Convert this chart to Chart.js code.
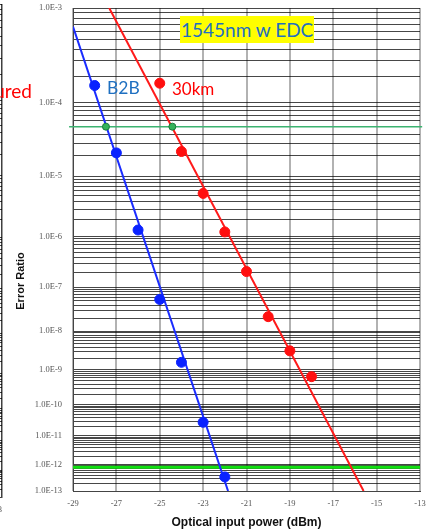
<!DOCTYPE html>
<html>
<head>
<meta charset="utf-8">
<script src="https://cdn.jsdelivr.net/npm/chart.js@4.4.0/dist/chart.umd.min.js"></script>
<style>
  html, body { margin: 0; padding: 0; background: #fff; }
  body { width: 434px; height: 530px; position: relative; overflow: hidden; }
  #mainWrap { position: absolute; left: 0; top: 0; width: 434px; height: 530px; }
  #sideWrap { position: absolute; left: -390px; top: 0; width: 400px; height: 530px; }
  .note { position: absolute; font-family: Lato, "Open Sans", sans-serif; white-space: nowrap; line-height: 1; }
  #yTitle { position: absolute; left: 19.5px; top: 281px; transform: translate(-50%, -50%) rotate(-90deg);
    font: bold 11px "Liberation Sans", Arial, sans-serif; color: #111; white-space: nowrap; }
</style>
</head>
<body>
<div id="sideWrap"><canvas id="side"></canvas></div>
<div id="mainWrap"><canvas id="main"></canvas></div>
<div id="yTitle">Error Ratio</div>
<div class="note" style="right:402px; top:81px; font-size:19px; color:#ff0000;">ured</div>
<div class="note" style="left:107px; top:78.5px; font-size:17.5px; color:#1f70c1;">B2B</div>
<div class="note" style="left:172px; top:80px; font-size:17px; color:#ff0000;">30km</div>
<div class="note" style="left:180px; top:16px; height:27px; line-height:27px; padding:0 1px; font-size:19px; color:#1f70c1; background:#ffff00;">1545nm w EDC</div>
<script>
// --- data ---
const xTicks = [-29, -27, -25, -23, -21, -19, -17, -15, -13];
const decades = [-3, -4, -5, -6, -7, -8, -9, -10, -11, -12, -13];

const b2bPower = [-28, -27, -26, -25, -24, -23, -22];
const b2bBer = [1.6e-4, 2.2e-5, 1.3e-6, 5.4e-8, 1.6e-9, 2.8e-11, 3.5e-13];

const km30Power = [-25, -24, -23, -22, -21, -20, -19, -18];
const km30Ber = [1.7e-4, 2.3e-5, 5.4e-6, 1.2e-6, 2.1e-7, 2.2e-8, 3.2e-9, 6.5e-10];

const b2bFitPower = [-29, -21.85];
const b2bFitBer = [6.7e-4, 1e-13];
const km30FitPower = [-27.33, -15.6];
const km30FitBer = [1e-3, 1e-13];

const thresholdBer = 5e-5;
const thresholdPower = [-29.18, -12.9];
const crossPower = [-27.48, -24.42];
const floorBer = 8e-13;
const floorPower = [-29, -13];

// --- BER axis: -log10(-log10(BER)) ---
const t = v => -Math.log10(-Math.log10(v));

const gridBer = [];
decades.forEach(k => {
  gridBer.push(Math.pow(10, k));
  if (k > -13) {
    for (let m = 9; m >= 2; m--) gridBer.push(m * Math.pow(10, k - 1));
  }
});

function berLabel(v) {
  const e = Math.log10(v);
  if (Math.abs(e - Math.round(e)) > 1e-9) return "";
  return "1.0E" + Math.round(e);
}

const pts = (xs, ys) => xs.map((x, i) => ({ x: x, y: t(ys[i]) }));
const flat = (xs, v) => xs.map(x => ({ x: x, y: t(v) }));

const tickFont = { family: "'Liberation Serif', 'DejaVu Serif', serif", size: 8.5 };

// keep the plot box where it is in the picture
function fixY(width) {
  return s => { s.width = width; s.paddingTop = 0; s.paddingBottom = 0; };
}

// --- main chart ---
new Chart(document.getElementById("main"), {
  type: "line",
  data: {
    datasets: [
      { data: pts(crossPower, [thresholdBer, thresholdBer]), showLine: false,
        pointRadius: 3.5, pointBackgroundColor: "#34b35a", pointBorderColor: "#1b7a3c", pointBorderWidth: 1 },
      { data: pts(b2bPower, b2bBer), showLine: false,
        pointRadius: 5, pointBackgroundColor: "#0a22ff", pointBorderColor: "#0a22ff", pointBorderWidth: 1 },
      { data: pts(km30Power, km30Ber), showLine: false,
        pointRadius: 5, pointBackgroundColor: "#ff0f0f", pointBorderColor: "#ff0f0f", pointBorderWidth: 1 },
      { data: pts(b2bFitPower, b2bFitBer), borderColor: "#1a2cff", borderWidth: 2, pointRadius: 0 },
      { data: pts(km30FitPower, km30FitBer), borderColor: "#ff1a1a", borderWidth: 2, pointRadius: 0 },
      { data: flat(thresholdPower, thresholdBer), borderColor: "#3cb371", borderWidth: 1.5, pointRadius: 0, clip: 5 },
      { data: flat(floorPower, floorBer), borderColor: "#10e010", borderWidth: 3, pointRadius: 0 }
    ]
  },
  options: {
    responsive: true,
    maintainAspectRatio: false,
    animation: false,
    layout: { padding: { top: 8, right: 14, left: 0, bottom: 0 } },
    plugins: { legend: { display: false }, tooltip: { enabled: false } },
    scales: {
      x: {
        type: "linear", min: -29, max: -13,
        afterBuildTicks: s => { s.ticks = xTicks.map(v => ({ value: v })); },
        afterFit: s => { s.height = 39; },
        ticks: { autoSkip: false, maxRotation: 0, padding: 8, font: tickFont, color: "#555",
          callback: v => String(v) },
        grid: { color: "rgba(0,0,0,0.3)", lineWidth: 2, drawTicks: false },
        border: { color: "#444", width: 1 },
        title: { display: true, text: "Optical input power (dBm)", color: "#111",
          font: { family: "'Liberation Sans', Arial, sans-serif", size: 12, weight: "bold" },
          padding: { top: 0, bottom: 0 } }
      },
      y: {
        type: "linear", min: t(1e-13), max: t(1e-3),
        afterBuildTicks: s => { s.ticks = gridBer.map(v => ({ value: t(v) })); },
        afterFit: fixY(73),
        ticks: { autoSkip: false, padding: 11, font: tickFont, color: "#555",
          callback: (v, i) => berLabel(gridBer[i]) },
        grid: { color: "rgba(0,0,0,0.72)", lineWidth: 1, drawTicks: false },
        border: { color: "#444", width: 1 }
      }
    }
  }
});

// --- cropped neighbour chart on the left edge ---
new Chart(document.getElementById("side"), {
  type: "line",
  data: {
    datasets: [
      { data: flat([-29, -13.2], thresholdBer), borderColor: "#3cb371", borderWidth: 1.5, pointRadius: 0 },
      { data: flat([-29, -13.2], floorBer), borderColor: "#10e010", borderWidth: 3, pointRadius: 0 }
    ]
  },
  options: {
    responsive: true,
    maintainAspectRatio: false,
    animation: false,
    layout: { padding: { top: 4, right: 0, left: 0, bottom: 0 } },
    plugins: { legend: { display: false }, tooltip: { enabled: false } },
    scales: {
      x: {
        type: "linear", min: -29, max: -13,
        afterBuildTicks: s => { s.ticks = xTicks.map(v => ({ value: v })); },
        afterFit: s => { s.height = 33; },
        ticks: { autoSkip: false, maxRotation: 0, align: "end", padding: 8, font: tickFont, color: "#555",
          callback: v => String(v) },
        grid: { color: "rgba(0,0,0,0.75)", lineWidth: 1.5, drawTicks: false },
        border: { color: "#444", width: 1 }
      },
      y: {
        type: "linear", min: t(1e-13), max: t(1e-3),
        afterBuildTicks: s => { s.ticks = gridBer.map(v => ({ value: t(v) })); },
        afterFit: fixY(60),
        ticks: { autoSkip: false, display: false },
        grid: { color: "rgba(0,0,0,0.72)", lineWidth: 1, drawTicks: false },
        border: { color: "#444", width: 1 }
      }
    }
  }
});
</script>
</body>
</html>
